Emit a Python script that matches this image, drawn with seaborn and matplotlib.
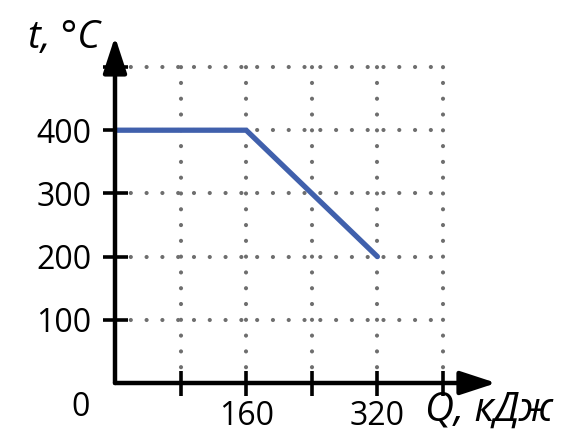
import matplotlib
matplotlib.use("Agg")
import matplotlib.pyplot as plt
import pandas as pd
import seaborn as sns

# heat vs temperature
Q_KJ = [0, 160, 320]
T_C = [400, 400, 200]
X_TICKS = [80, 160, 240, 320, 400]
X_LABELS = ["", "160", "", "320", ""]
Y_TICKS = [100, 200, 300, 400, 500]
Y_LABELS = ["100", "200", "300", "400", ""]

LINE_COLOR = "#4060ac"
GRID_COLOR = "#6e6e6e"
FONT = ["Open Sans", "DejaVu Sans"]


def main():
    sns.set_theme(style="white")
    plt.rcParams["font.family"] = FONT
    plt.rcParams["text.color"] = "black"

    fig = plt.figure(figsize=(5.7, 4.33), dpi=100)
    # axes placed by pixels: origin at (115, 383), x 0..400 -> 328 px, y 0..500 -> 316 px
    x_max, y_max = 465, 548
    w = 328 / 400 * x_max
    h = 316 / 500 * y_max
    ax = fig.add_axes([115 / 570, 50 / 433, w / 570, h / 433])
    ax.set_xlim(0, x_max)
    ax.set_ylim(0, y_max)

    # dotted grid, only up to the last tick (4 dots per cell)
    grid_kw = dict(color=GRID_COLOR, linewidth=3.0, dashes=(0.01, 3.78),
                   dash_capstyle="round", zorder=1)
    for x in X_TICKS:
        ax.plot([x, x], [0, max(Y_TICKS)], **grid_kw)
    for y in Y_TICKS:
        ax.plot([0, max(X_TICKS)], [y, y], **grid_kw)

    df = pd.DataFrame({"Q": Q_KJ, "t": T_C})
    sns.lineplot(data=df, x="Q", y="t", color=LINE_COLOR, linewidth=3.8,
                 ax=ax, zorder=3, solid_capstyle="round", solid_joinstyle="miter")

    for s in ax.spines.values():
        s.set_visible(False)

    # axes with arrow heads
    arrow = dict(arrowstyle="-|>,head_length=1.1,head_width=0.36", lw=3.2,
                 color="black", shrinkA=0, shrinkB=0, mutation_scale=20)
    ax.annotate("", xy=(1.0, 0), xytext=(0, 0), xycoords="axes fraction",
                arrowprops=arrow, annotation_clip=False, zorder=4)
    ax.annotate("", xy=(0, 1.0), xytext=(0, 0), xycoords="axes fraction",
                arrowprops=arrow, annotation_clip=False, zorder=4)

    ax.set_xticks(X_TICKS)
    ax.set_xticklabels(X_LABELS)
    ax.set_yticks(Y_TICKS)
    ax.set_yticklabels(Y_LABELS)
    ax.tick_params(axis="both", direction="inout", length=18, width=2.6,
                   color="black", labelcolor="black", labelsize=23,
                   left=True, bottom=True)
    ax.tick_params(axis="x", pad=3)
    ax.tick_params(axis="y", pad=8)
    ax.set_xlabel("")
    ax.set_ylabel("")

    fig.text(81 / 570, 1 - 408 / 433, "0", fontsize=23, ha="center", va="center")
    fig.text(100 / 570, 1 - 38 / 433, "t, °C", fontsize=28, style="italic",
             ha="right", va="center")
    fig.text(425 / 570, 1 - 410 / 433, "Q, кДж", fontsize=29, style="italic",
             ha="left", va="center")

    fig.savefig("out.png", dpi=100)


if __name__ == "__main__":
    main()
